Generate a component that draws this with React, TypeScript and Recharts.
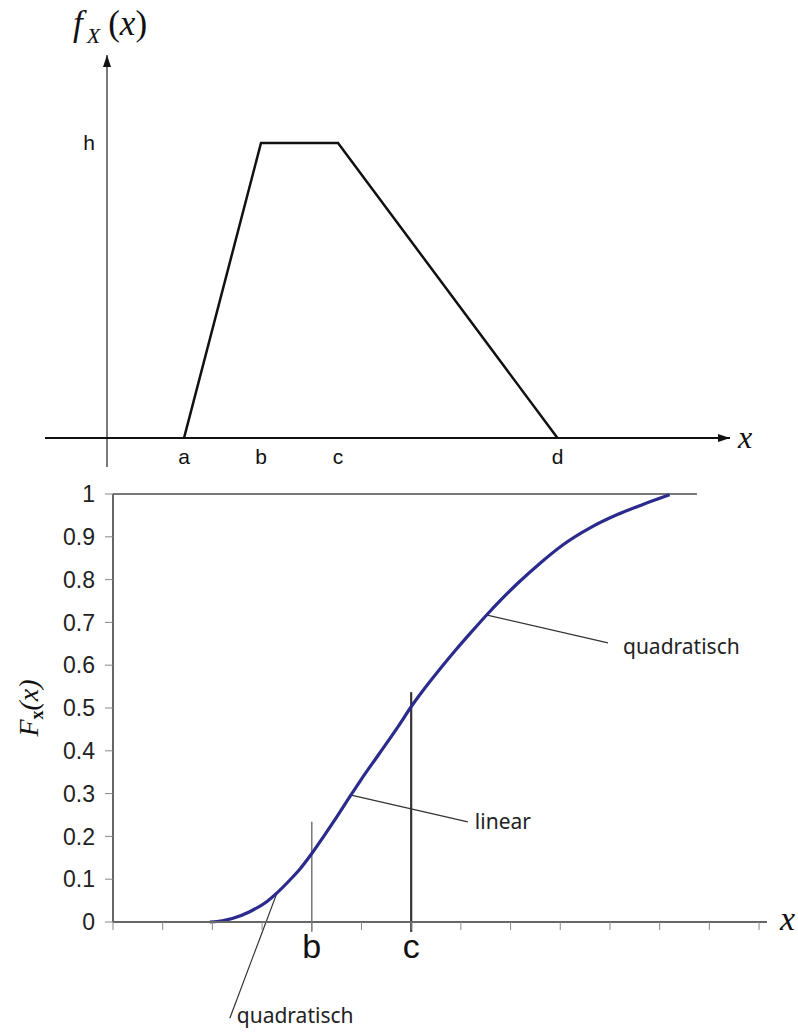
import React from 'react';
import { LineChart, Line, XAxis, YAxis, ReferenceLine, ReferenceDot } from 'recharts';

// ---------- top panel: density f_X(x), trapezoid ----------
const PDF_X = [2, 4, 6, 11.7];
const PDF_Y = [0, 1, 1, 0];
const PDF_LABELS = ['a', 'b', 'c', 'd'];
const PDF_H = 1;
const PDF_H_LABEL = 'h';
const PDF_X_DOMAIN: [number, number] = [-1.61, 16.31];
const PDF_Y_DOMAIN: [number, number] = [-0.098, 1.298];
const PDF_X_ARROW_END = 16.18;

// ---------- bottom panel: distribution F_X(x) ----------
const CDF_X = [1.95, 2.2, 2.4, 2.75, 3.1, 3.3, 3.55, 3.75, 4.0, 4.25, 4.5, 4.75, 5.0, 5.35, 5.75, 6.0, 6.2, 6.6, 6.9, 7.2, 7.5, 7.8, 8.15, 8.6, 9.05, 9.6, 10.15, 10.65, 11.2];
const CDF_Y = [0, 0.003, 0.008, 0.024, 0.048, 0.068, 0.097, 0.122, 0.16, 0.202, 0.245, 0.29, 0.334, 0.392, 0.459, 0.503, 0.535, 0.594, 0.636, 0.676, 0.715, 0.752, 0.792, 0.839, 0.881, 0.921, 0.952, 0.975, 0.998];
const CDF_X_TICKS = [0, 1, 2, 3, 4, 5, 6, 7, 8, 9, 10, 11, 12, 13];
const CDF_X_TICK_LABELS: Record<number, string> = { 4: 'b', 6: 'c' };
const CDF_Y_TICKS = [0, 0.1, 0.2, 0.3, 0.4, 0.5, 0.6, 0.7, 0.8, 0.9, 1];
const CDF_X_DOMAIN: [number, number] = [0, 13.16];
const B_VALUE = 4;
const C_VALUE = 6;
const B_LINE_Y: [number, number] = [-0.023, 0.234];
const C_LINE_Y: [number, number] = [-0.023, 0.537];
const TOP_LINE_END = 11.75;

const NOTE_TEXTS = ['quadratisch', 'linear', 'quadratisch'];
const NOTE_FROM: [number, number][] = [[3.3, 0.068], [4.77, 0.297], [7.53, 0.717]];
const NOTE_TO: [number, number][] = [[2.35, -0.225], [7.14, 0.234], [9.96, 0.652]];

const pdfData = PDF_X.map((x, i) => ({ x, y: PDF_Y[i] }));
const cdfData = CDF_X.map((x, i) => ({ x, y: CDF_Y[i] }));

const SANS = '"Liberation Sans", Arial, sans-serif';
const SERIF = '"Liberation Serif", "Times New Roman", serif';
const NOTE_FONT = '"Noto Sans", "Open Sans", sans-serif';
const NOTE_DX = [7, 7, 15];
const NOTE_DY = [5, 7, 11];

const arrowLine = (color: string, width: number) => (p: any) => (
  <line x1={p.x1} y1={p.y1} x2={p.x2} y2={p.y2} stroke={color} strokeWidth={width} markerEnd="url(#arrowHead)" />
);

export default function App() {
  return (
    <div style={{ position: 'absolute', left: 0, top: 0, width: 798, height: 1032, background: '#fff' }}>
      <svg width={0} height={0} style={{ position: 'absolute' }}>
        <defs>
          <marker id="arrowHead" viewBox="0 0 12 8" refX={12} refY={4} markerWidth={12} markerHeight={8} markerUnits="userSpaceOnUse" orient="auto">
            <path d="M0,0 L12,4 L0,8 z" fill="#111" />
          </marker>
        </defs>
      </svg>

      {/* top panel */}
      <div style={{ position: 'absolute', left: 0, top: 0 }}>
        <LineChart width={798} height={480} data={pdfData} margin={{ top: 55, right: 63, bottom: 13, left: 45 }}>
          <XAxis dataKey="x" type="number" domain={PDF_X_DOMAIN} allowDataOverflow hide />
          <YAxis type="number" domain={PDF_Y_DOMAIN} allowDataOverflow hide />
          <ReferenceLine
            segment={[{ x: 0, y: PDF_Y_DOMAIN[0] }, { x: 0, y: PDF_Y_DOMAIN[1] }]}
            ifOverflow="visible"
            shape={arrowLine('#7a7a7a', 2)}
          />
          <ReferenceLine
            segment={[{ x: PDF_X_DOMAIN[0], y: 0 }, { x: PDF_X_ARROW_END, y: 0 }]}
            ifOverflow="visible"
            shape={arrowLine('#111', 2)}
          />
          <Line dataKey="y" type="linear" stroke="#111" strokeWidth={2.5} dot={false} isAnimationActive={false} />
          {PDF_X.map((x, i) => (
            <ReferenceDot
              key={'lab' + i}
              x={x}
              y={0}
              r={0}
              ifOverflow="visible"
              shape={(p: any) => (
                <text x={p.cx} y={p.cy + 26} textAnchor="middle" fontSize={21} fontFamily={SANS} fill="#111">
                  {PDF_LABELS[i]}
                </text>
              )}
            />
          ))}
          <ReferenceDot
            x={0}
            y={PDF_H}
            r={0}
            ifOverflow="visible"
            shape={(p: any) => (
              <text x={p.cx - 12} y={p.cy} textAnchor="end" dominantBaseline="central" fontSize={21} fontFamily={SANS} fill="#111">
                {PDF_H_LABEL}
              </text>
            )}
          />
          <ReferenceDot
            x={PDF_X_ARROW_END}
            y={0}
            r={0}
            ifOverflow="visible"
            shape={(p: any) => (
              <text x={p.cx + 8} y={p.cy + 10} fontSize={32} fontFamily={SERIF} fontStyle="italic" fill="#111">
                x
              </text>
            )}
          />
          <ReferenceDot
            x={0}
            y={PDF_Y_DOMAIN[1]}
            r={0}
            ifOverflow="visible"
            shape={(p: any) => (
              <text x={p.cx - 34} y={p.cy - 20} fontSize={35} fontFamily={SERIF} fontStyle="italic" fill="#111">
                <tspan>f</tspan>
                <tspan fontSize={22} dx={4} dy={8}>X</tspan>
                <tspan dx={8} dy={-8} fontStyle="normal">(</tspan>
                <tspan>x</tspan>
                <tspan fontStyle="normal">)</tspan>
              </text>
            )}
          />
        </LineChart>
      </div>

      {/* bottom panel */}
      <div style={{ position: 'absolute', left: 0, top: 480 }}>
        <LineChart width={798} height={552} data={cdfData} margin={{ top: 14, right: 31, bottom: 50, left: 53 }}>
          <XAxis
            dataKey="x"
            type="number"
            domain={CDF_X_DOMAIN}
            allowDataOverflow
            ticks={CDF_X_TICKS}
            interval={0}
            tickFormatter={(v: number) => CDF_X_TICK_LABELS[v] ?? ''}
            tickSize={8}
            tickMargin={4}
            height={60}
            axisLine={{ stroke: '#666', strokeWidth: 2 }}
            tickLine={{ stroke: '#888', strokeWidth: 1 }}
            tick={{ fontSize: 34, fontFamily: SANS, fill: '#111' }}
          />
          <YAxis
            type="number"
            domain={[0, 1]}
            ticks={CDF_Y_TICKS}
            interval={0}
            width={60}
            tickSize={8}
            tickMargin={10}
            tickFormatter={(v: number) => (v === 0 || v === 1 ? String(v) : v.toFixed(1))}
            axisLine={{ stroke: '#666', strokeWidth: 2 }}
            tickLine={{ stroke: '#888', strokeWidth: 1 }}
            tick={{ fontSize: 23, fontFamily: SANS, fill: '#222' }}
          />
          <ReferenceLine
            segment={[{ x: 0, y: 1 }, { x: TOP_LINE_END, y: 1 }]}
            ifOverflow="visible"
            stroke="#777"
            strokeWidth={2}
          />
          <ReferenceLine
            segment={[{ x: B_VALUE, y: B_LINE_Y[0] }, { x: B_VALUE, y: B_LINE_Y[1] }]}
            ifOverflow="visible"
            stroke="#777"
            strokeWidth={1.5}
          />
          <ReferenceLine
            segment={[{ x: C_VALUE, y: C_LINE_Y[0] }, { x: C_VALUE, y: C_LINE_Y[1] }]}
            ifOverflow="visible"
            stroke="#333"
            strokeWidth={2.2}
          />
          {NOTE_TEXTS.map((t, i) => (
            <ReferenceLine
              key={'nl' + i}
              segment={[{ x: NOTE_FROM[i][0], y: NOTE_FROM[i][1] }, { x: NOTE_TO[i][0], y: NOTE_TO[i][1] }]}
              ifOverflow="visible"
              stroke="#333"
              strokeWidth={1.2}
            />
          ))}
          <Line dataKey="y" type="monotone" stroke="#2b2b8e" strokeWidth={3.2} dot={false} isAnimationActive={false} />
          {NOTE_TEXTS.map((t, i) => (
            <ReferenceDot
              key={'nt' + i}
              x={NOTE_TO[i][0]}
              y={NOTE_TO[i][1]}
              r={0}
              ifOverflow="visible"
              shape={(p: any) => (
                <text x={p.cx + NOTE_DX[i]} y={p.cy + NOTE_DY[i]} fontSize={21} fontFamily={NOTE_FONT} fill="#222">
                  {t}
                </text>
              )}
            />
          ))}
          <ReferenceDot
            x={CDF_X_DOMAIN[1]}
            y={0}
            r={0}
            ifOverflow="visible"
            shape={(p: any) => (
              <text x={p.cx + 13} y={p.cy + 8} fontSize={34} fontFamily={SERIF} fontStyle="italic" fill="#111">
                x
              </text>
            )}
          />
          <ReferenceDot
            x={0}
            y={0.5}
            r={0}
            ifOverflow="visible"
            shape={(p: any) => (
              <text
                transform={`rotate(-90 ${p.cx - 75} ${p.cy})`}
                x={p.cx - 75}
                y={p.cy}
                textAnchor="middle"
                fontSize={28}
                fontFamily={SERIF}
                fontStyle="italic"
                fill="#111"
              >
                <tspan>F</tspan>
                <tspan fontSize={18} dy={5} fontStyle="normal" fontWeight="bold">x</tspan>
                <tspan dy={-5}>(x)</tspan>
              </text>
            )}
          />
        </LineChart>
      </div>
    </div>
  );
}
